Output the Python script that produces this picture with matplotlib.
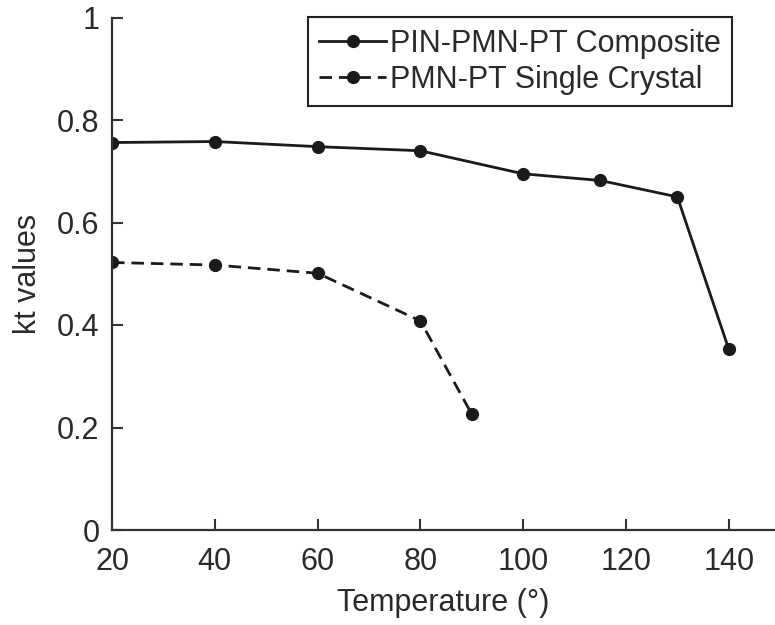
import matplotlib.pyplot as plt

# kt values vs temperature
temp_composite = [20, 40, 60, 80, 100, 115, 130, 140]
kt_composite = [0.756, 0.758, 0.748, 0.740, 0.695, 0.682, 0.650, 0.353]

temp_crystal = [20, 40, 60, 80, 90]
kt_crystal = [0.522, 0.517, 0.501, 0.408, 0.226]

x_ticks = [20, 40, 60, 80, 100, 120, 140]
y_ticks = [0, 0.2, 0.4, 0.6, 0.8, 1]
y_labels = ['0', '0.2', '0.4', '0.6', '0.8', '1']

plt.rcParams['font.family'] = ['Liberation Sans', 'DejaVu Sans']

fig = plt.figure(figsize=(7.75, 6.25), dpi=100)
ax = fig.add_axes([112 / 775, 1 - 530 / 625, (775 - 112) / 775, 512.5 / 625])

ax.plot(temp_composite, kt_composite, '-', color='#1a1a1a', lw=2.0,
        marker='o', markersize=8.5, label='PIN-PMN-PT Composite')
ax.plot(temp_crystal, kt_crystal, '--', color='#1a1a1a', lw=2.0, dashes=(4.5, 2.5),
        marker='o', markersize=8.5, label='PMN-PT Single Crystal')

ax.set_xlim(20, 149)
ax.set_ylim(0, 1)
ax.set_xticks(x_ticks)
ax.set_yticks(y_ticks)
ax.set_yticklabels(y_labels)

for side in ['top', 'right']:
    ax.spines[side].set_visible(False)
for side in ['left', 'bottom']:
    ax.spines[side].set_linewidth(1.6)
    ax.spines[side].set_color('#333333')
    ax.spines[side].set_clip_on(False)

ax.tick_params(direction='in', length=8, width=1.5, color='#333333',
               labelsize=22, labelcolor='#2a2a2a')
ax.tick_params(axis='y', pad=9)
ax.tick_params(axis='x', pad=12)

ax.set_xlabel('Temperature (°)', fontsize=22, color='#2a2a2a', labelpad=8)
ax.set_ylabel('kt values', fontsize=22, color='#2a2a2a', labelpad=10)

leg = ax.legend(loc='upper right', bbox_to_anchor=(732 / 775, 1 - 17 / 625),
                bbox_transform=fig.transFigure, borderaxespad=0,
                fancybox=False, edgecolor='#222222', fontsize=22,
                handlelength=2.2, handletextpad=0.1, borderpad=0.38,
                labelspacing=0.2, framealpha=1)
leg.get_frame().set_linewidth(1.5)
for t in leg.get_texts():
    t.set_color('#2a2a2a')

plt.savefig('out.png', dpi=100)
